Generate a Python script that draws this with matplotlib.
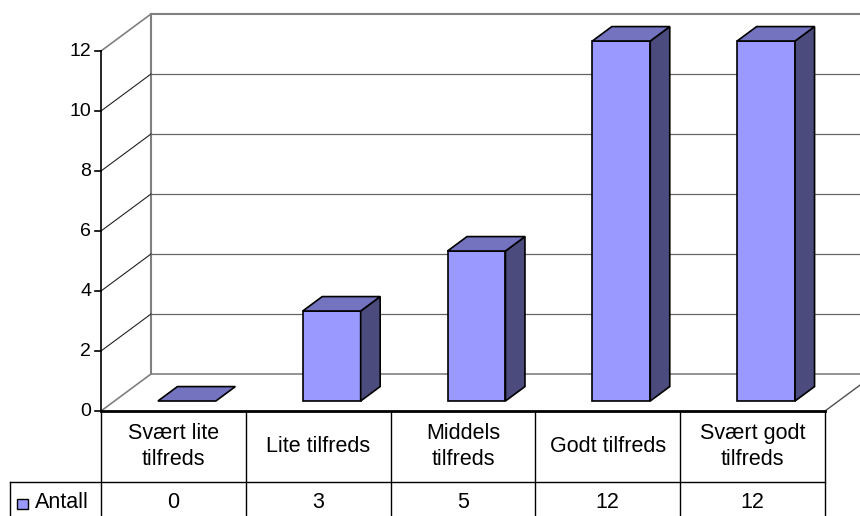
import numpy as np
import matplotlib.pyplot as plt
from matplotlib.patches import Polygon, Rectangle

categories = ["Svært lite\ntilfreds", "Lite tilfreds", "Middels\ntilfreds",
              "Godt tilfreds", "Svært godt\ntilfreds"]
values = [0, 3, 5, 12, 12]
series_name = "Antall"
yticks = [0, 2, 4, 6, 8, 10, 12]

plt.rcParams['font.family'] = ['Liberation Sans', 'DejaVu Sans']

front_col = "#9999FF"
top_col = "#7373C0"
side_col = "#4B4B7E"
wall_col = "#808080"

fig = plt.figure(figsize=(8.6, 5.16), dpi=100)
ax = fig.add_axes([0, 0, 1, 1])

# scale: pixels per category / per unit
px_x = 144.8
px_y = 30.0
x0 = -0.5 - 101 / px_x
ax.set_xlim(x0, x0 + 860 / px_x)
ax.set_ylim(-105 / px_y, (516 - 105) / px_y)
ax.axis('off')

n = len(categories)
xl, xr = -0.5, n - 0.5
ymax = yticks[-1]
DX, DY = 50 / px_x, 37 / px_y   # full depth of the 3d box

# walls and floor
ax.plot([xl + DX, xr + DX + 1], [ymax + DY, ymax + DY], color=wall_col, lw=1.5)
ax.plot([xl + DX, xl + DX], [DY, ymax + DY], color=wall_col, lw=1.5)
ax.plot([xl, xl + DX], [ymax, ymax + DY], color=wall_col, lw=1.2)
ax.plot([xl, xl + DX], [0, DY], color=wall_col, lw=1.2)
ax.plot([xl + DX, xr + DX + 1], [DY, DY], color=wall_col, lw=1.2)
ax.plot([xr, xr + DX], [0, DY], color="#505050", lw=1)

# gridlines
for v in yticks[1:-1]:
    ax.plot([xl, xl + DX], [v, v + DY], color="#222222", lw=0.8)
    ax.plot([xl + DX, xr + DX + 1], [v + DY, v + DY], color="#666666", lw=0.9)

# 3d bars
w = 0.4
f1, f2 = 0.27, 0.66
for i, v in enumerate(values):
    left = i - w / 2 + f1 * DX
    right = i + w / 2 + f1 * DX
    bot = f1 * DY
    top = v + f1 * DY
    ddx, ddy = (f2 - f1) * DX, (f2 - f1) * DY
    if v > 0:
        ax.add_patch(Polygon([(left, bot), (right, bot), (right, top), (left, top)],
                             closed=True, fc=front_col, ec="black", lw=1.2, zorder=3))
        ax.add_patch(Polygon([(right, bot), (right + ddx, bot + ddy),
                              (right + ddx, top + ddy), (right, top)],
                             closed=True, fc=side_col, ec="black", lw=1.2, zorder=3))
    ax.add_patch(Polygon([(left, top), (right, top), (right + ddx, top + ddy),
                          (left + ddx, top + ddy)],
                         closed=True, fc=top_col, ec="black", lw=1.2, zorder=3))

# y axis
ax.plot([xl, xl], [0, ymax], color="black", lw=1.2)
for v in yticks:
    ax.plot([xl - 6 / px_x, xl], [v, v], color="black", lw=1.2)
    ax.text(xl - 10 / px_x, v, str(v), ha="right", va="center", fontsize=14)

# data table
row1 = -71 / px_y
bottom = -110 / px_y
leg_left = x0 + 10 / px_x
ax.plot([xl, xr], [0, 0], color="black", lw=2, zorder=4)
ax.plot([leg_left, xr], [row1, row1], color="black", lw=1)
ax.plot([leg_left, leg_left], [row1, bottom], color="black", lw=1)
for k in range(n + 1):
    ax.plot([xl + k, xl + k], [0, bottom], color="black", lw=1)
for i, (c, v) in enumerate(zip(categories, values)):
    ax.text(i, row1 / 2, c, ha="center", va="center", fontsize=15.5, linespacing=1.32)
    ax.text(i, -91 / px_y, str(v), ha="center", va="center", fontsize=15.5)
ax.add_patch(Rectangle((x0 + 17 / px_x, -98 / px_y), 11 / px_x, 10 / px_y,
                       fc=front_col, ec="black", lw=1))
ax.text(x0 + 35 / px_x, -91 / px_y, series_name, ha="left", va="center", fontsize=15.5)

fig.savefig("out.png", dpi=100)
